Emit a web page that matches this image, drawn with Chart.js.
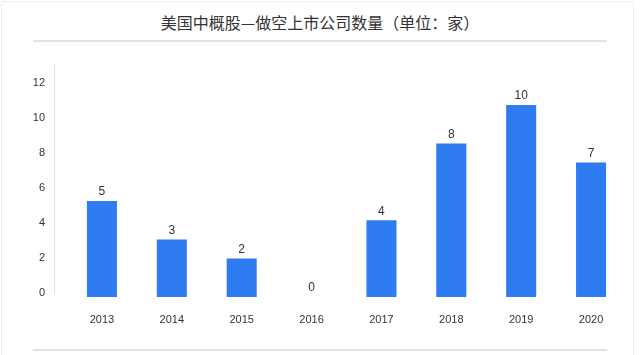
<!DOCTYPE html>
<html>
<head>
<meta charset="utf-8">
<script src="https://cdn.jsdelivr.net/npm/chart.js@4/dist/chart.umd.min.js"></script>
<style>
  html, body { margin: 0; padding: 0; background: #fff; }
  #wrap { position: relative; width: 640px; height: 355px; overflow: hidden; font-family: "Noto Sans CJK SC", "Noto Sans", sans-serif; }
  #frame { position: absolute; left: 1px; top: 1px; width: 633px; height: 360px; border: 1px solid #efefef; border-radius: 3px; box-sizing: border-box; }
  #title { position: absolute; left: 0; top: 11px; width: 640px; text-align: center; font-size: 16px; color: #333; line-height: 22px; }
  .rule { position: absolute; left: 33px; width: 574px; height: 2px; background: #dde5eb; }
  #c { position: absolute; left: 0; top: 0; }
</style>
</head>
<body>
<div id="wrap">
  <div id="frame"></div>
  <div id="title">美国中概股—做空上市公司数量（单位：家）</div>
  <div class="rule" style="top:40px"></div>
  <div class="rule" style="top:349px"></div>
  <canvas id="c" width="640" height="355"></canvas>
</div>
<script>
const categories = ['2013', '2014', '2015', '2016', '2017', '2018', '2019', '2020'];
const companies = [5, 3, 2, 0, 4, 8, 10, 7];
const tickValues = [0, 2, 4, 6, 8, 10, 12];

const valueLabels = {
  id: 'valueLabels',
  afterDatasetsDraw(chart) {
    const ctx = chart.ctx;
    const meta = chart.getDatasetMeta(0);
    ctx.save();
    ctx.font = '12px "Liberation Sans", Arial, sans-serif';
    ctx.fillStyle = '#333';
    ctx.textAlign = 'center';
    ctx.textBaseline = 'bottom';
    meta.data.forEach((bar, i) => {
      ctx.fillText(String(companies[i]), bar.x, bar.y - 3);
    });
    ctx.restore();
  }
};

const axisLine = {
  id: 'axisLine',
  beforeDatasetsDraw(chart) {
    const ctx = chart.ctx;
    const a = chart.chartArea;
    ctx.save();
    ctx.strokeStyle = '#e2e2e2';
    ctx.lineWidth = 1;
    ctx.beginPath();
    ctx.moveTo(a.left - 12.5, a.top);
    ctx.lineTo(a.left - 12.5, a.bottom - 3);
    ctx.stroke();
    ctx.restore();
  }
};

new Chart(document.getElementById('c'), {
  type: 'bar',
  data: {
    labels: categories,
    datasets: [{
      data: companies,
      backgroundColor: '#2f7bf1',
      barPercentage: 0.86,
      categoryPercentage: 0.5,
      yAxisID: 'y'
    }]
  },
  options: {
    responsive: false,
    animation: false,
    layout: { padding: { top: 63, right: 14, left: 0, bottom: 0 } },
    plugins: { legend: { display: false }, tooltip: { enabled: false }, title: { display: false } },
    scales: {
      x: {
        grid: { display: false, drawTicks: false },
        border: { display: false },
        ticks: { color: '#333', padding: 16, font: { size: 11, family: '"Liberation Sans", Arial, sans-serif' } },
        afterFit(s) { s.height = 58; }
      },
      y: {
        display: false,
        min: 0,
        max: 234 / 19.2
      },
      yt: {
        position: 'left',
        min: -4 / 17.5,
        max: -4 / 17.5 + 234 / 17.5,
        grid: { display: false, drawTicks: false },
        border: { display: false },
        ticks: { color: '#333', padding: 22, font: { size: 11, family: '"Liberation Sans", Arial, sans-serif' } },
        afterBuildTicks(s) { s.ticks = tickValues.map(v => ({ value: v })); },
        afterFit(s) { s.width = 67; }
      }
    }
  },
  plugins: [valueLabels, axisLine]
});
</script>
</body>
</html>
